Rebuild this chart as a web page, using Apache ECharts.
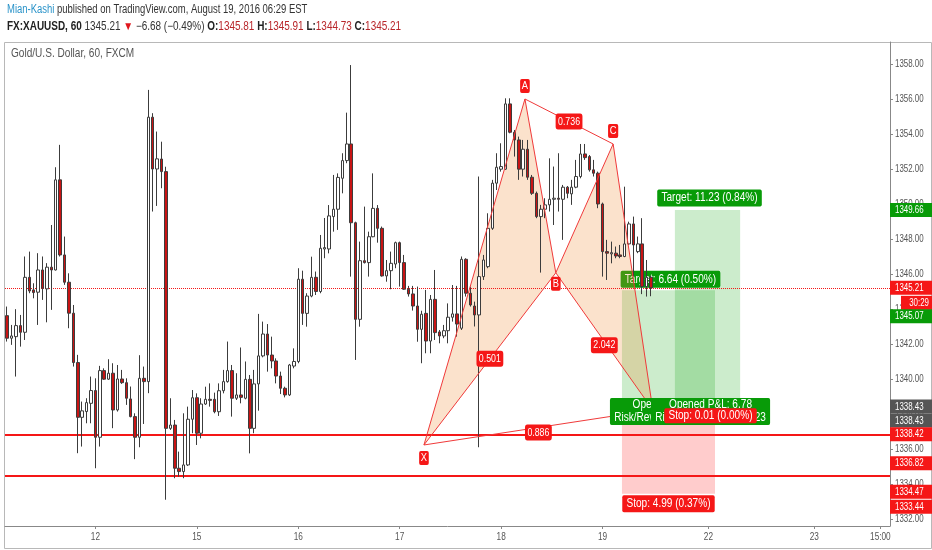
<!DOCTYPE html>
<html><head><meta charset="utf-8">
<script src="https://cdn.jsdelivr.net/npm/echarts@6/dist/echarts.min.js"></script>
<style>html,body{margin:0;padding:0;background:#fff}#c{width:932px;height:550px}</style>
</head><body><div id="c"></div>
<script>
const FONT = '"Liberation Sans","Arimo",Arial,sans-serif';
const NARROW = 0.72;   // horizontal squeeze to imitate the condensed UI font

// hourly candles: [open, high, low, close]
const candles = [
[1343.62,1344.14,1342.14,1342.33],[1342.33,1343.09,1341.95,1342.46],[1342.42,1343.99,1340.14,1343.05],[1343.05,1343.66,1341.85,1342.67],
[1342.67,1347.00,1342.23,1345.81],[1345.81,1347.28,1344.90,1345.03],[1345.09,1345.47,1344.61,1344.94],[1344.96,1347.19,1343.09,1346.23],
[1346.23,1347.00,1344.52,1345.19],[1345.15,1346.62,1343.24,1346.39],[1346.39,1348.80,1343.95,1346.23],[1346.23,1352.10,1346.20,1351.38],
[1351.38,1353.38,1347.00,1347.09],[1347.09,1348.14,1345.38,1345.53],[1345.53,1346.04,1342.90,1343.76],[1343.76,1344.23,1340.71,1340.94],
[1340.94,1341.38,1335.76,1337.81],[1337.81,1338.71,1336.14,1338.18],[1338.14,1338.90,1337.47,1338.65],[1338.61,1340.14,1337.47,1339.34],
[1339.34,1340.04,1334.90,1336.67],[1336.67,1340.75,1336.14,1340.48],[1340.48,1340.61,1339.95,1339.99],[1339.99,1341.13,1339.95,1340.33],
[1340.33,1340.90,1337.19,1338.23],[1338.23,1340.80,1338.14,1340.00],[1340.00,1340.52,1339.72,1339.79],[1339.79,1340.04,1338.52,1338.90],
[1338.86,1339.57,1337.81,1337.85],[1337.85,1338.04,1335.42,1336.67],[1336.67,1341.36,1336.10,1340.04],[1340.04,1340.71,1337.43,1339.85],
[1339.85,1356.52,1339.19,1354.96],[1354.96,1355.19,1349.57,1352.00],[1352.00,1354.14,1349.89,1352.58],[1352.57,1353.56,1350.90,1351.85],
[1351.85,1352.13,1333.10,1337.18],[1337.18,1338.90,1337.09,1337.37],[1337.37,1337.66,1334.33,1334.90],[1334.90,1335.85,1334.42,1334.71],
[1334.71,1338.04,1334.33,1335.09],[1335.09,1338.42,1335.03,1337.70],[1337.70,1339.37,1336.90,1338.93],[1338.93,1339.18,1336.23,1336.90],
[1336.90,1338.90,1336.61,1338.57],[1338.57,1339.56,1338.52,1338.84],[1338.84,1339.75,1338.42,1338.78],[1338.84,1339.22,1338.04,1338.13],
[1338.13,1339.75,1337.89,1339.33],[1339.33,1340.52,1339.18,1339.85],[1339.85,1342.14,1339.79,1340.48],[1340.48,1340.80,1337.85,1338.90],
[1338.90,1340.33,1338.80,1339.09],[1339.09,1341.80,1338.61,1338.95],[1338.90,1341.00,1338.84,1339.98],[1339.98,1340.23,1335.75,1337.18],
[1337.18,1340.52,1336.90,1339.72],[1339.72,1343.72,1338.19,1341.32],[1341.32,1343.28,1341.24,1342.57],[1342.57,1343.14,1340.42,1341.37],
[1341.37,1342.42,1340.61,1341.03],[1341.03,1341.18,1339.75,1340.17],[1340.17,1340.42,1339.14,1339.47],[1339.47,1339.56,1338.95,1339.09],
[1339.09,1340.86,1339.03,1340.80],[1340.74,1341.75,1340.61,1341.00],[1341.00,1346.33,1340.90,1345.70],[1345.70,1346.19,1343.09,1343.75],
[1343.75,1344.90,1342.99,1344.74],[1344.74,1346.99,1344.67,1345.81],[1345.81,1346.14,1344.80,1345.00],[1345.00,1348.23,1344.90,1347.47],
[1347.43,1349.20,1346.90,1347.51],[1347.43,1349.94,1347.18,1349.32],[1349.28,1351.66,1348.42,1349.70],[1349.70,1351.75,1348.52,1351.52],
[1351.47,1352.90,1350.61,1352.48],[1352.48,1355.22,1352.33,1353.43],[1353.43,1357.94,1345.85,1348.93],[1348.93,1348.99,1341.09,1343.41],
[1343.41,1347.85,1342.99,1346.76],[1346.76,1349.85,1346.60,1346.65],[1346.65,1348.42,1345.85,1348.13],[1348.13,1351.75,1348.10,1349.75],
[1349.75,1349.94,1347.79,1348.61],[1348.61,1348.71,1345.85,1345.89],[1345.89,1346.80,1345.56,1346.19],[1346.19,1347.28,1345.13,1346.61],
[1346.57,1347.85,1346.33,1347.79],[1347.79,1347.85,1345.28,1346.65],[1346.65,1347.09,1345.09,1345.13],[1345.13,1345.32,1344.71,1344.86],
[1344.86,1345.32,1343.91,1344.17],[1344.17,1345.28,1342.13,1342.84],[1342.84,1343.90,1340.90,1343.70],[1343.75,1345.09,1341.47,1342.17],
[1342.17,1344.80,1341.47,1344.55],[1344.55,1346.23,1342.23,1342.65],[1342.69,1342.80,1342.04,1342.46],[1342.46,1343.09,1342.33,1342.76],
[1342.76,1344.32,1342.04,1343.53],[1343.53,1345.37,1343.28,1343.72],[1343.72,1345.32,1342.42,1343.14],[1342.90,1347.00,1342.80,1346.84],
[1346.84,1346.90,1344.71,1344.90],[1344.90,1345.28,1344.14,1344.23],[1344.17,1344.42,1343.00,1343.66],[1343.66,1351.57,1336.10,1345.85],
[1345.85,1347.09,1345.66,1346.80],[1346.42,1349.47,1346.33,1348.61],[1348.61,1351.38,1348.52,1351.19],[1351.19,1352.90,1350.80,1352.10],
[1351.99,1353.47,1351.85,1352.14],[1351.99,1356.04,1351.95,1355.72],[1355.72,1356.04,1354.04,1354.10],[1354.10,1354.23,1352.71,1353.66],
[1353.66,1353.85,1351.38,1351.99],[1351.99,1353.66,1351.57,1353.13],[1353.13,1353.66,1351.38,1351.53],[1351.53,1351.66,1350.52,1350.61],
[1350.61,1350.71,1349.19,1349.28],[1349.28,1349.95,1346.08,1349.70],[1349.70,1350.33,1349.19,1349.95],[1349.95,1352.61,1349.57,1350.27],
[1350.27,1352.14,1348.80,1350.33],[1350.33,1352.90,1349.57,1350.27],[1350.27,1351.09,1347.95,1350.96],[1350.96,1351.03,1350.33,1350.61],
[1350.58,1351.38,1349.95,1350.96],[1350.96,1352.52,1350.90,1351.57],[1351.57,1353.43,1351.47,1352.86],[1352.86,1353.43,1352.52,1352.65],
[1352.71,1352.80,1351.85,1351.95],[1351.95,1352.52,1351.57,1351.76],[1351.76,1351.85,1349.76,1350.00],[1350.00,1350.08,1345.85,1347.28],
[1347.28,1347.95,1345.66,1347.19],[1347.15,1347.85,1346.61,1347.22],[1347.19,1347.57,1346.90,1347.03],[1347.09,1347.66,1346.90,1347.00],
[1347.00,1350.99,1346.96,1347.72],[1347.72,1348.99,1347.66,1348.86],[1348.86,1349.28,1345.85,1347.66],[1347.28,1348.14,1347.19,1347.72],
[1347.72,1349.19,1344.85,1345.28],[1345.28,1346.80,1344.71,1345.81],[1345.81,1345.91,1344.73,1345.21]
];

const xTickIdx  = [20, 43, 66, 89, 112, 135, 159, 183, 198];
const xTickText = ['12','15','16','17','18','19','22','23','15:00'];
const yTicks = [1332,1334,1336,1338,1340,1342,1344,1346,1348,1350,1352,1354,1356,1358];
const lastPrice = 1345.21;
const hLevels = [1336.82, 1334.47];

// harmonic pattern points
const patNames = ['X','A','B','C','D'];
const patIdx   = [94.5, 117.4, 124.4, 137.4, 146.4];
const patPrice = [1336.23, 1356.00, 1346.07, 1353.43, 1338.23];
const ratioText = ['0.501','0.736','2.042','0.886'];
const ratioLegs = [[0,2],[1,3],[2,4],[0,4]];
const legs = [[0,1],[1,2],[2,3],[3,4],[0,2],[1,3],[2,4],[0,4]];

// long position tools
const entry = 1338.43;
const posFrom   = [139.4, 151.4];
const posTo     = [160.5, 166.2];
const posTarget = [1345.07, 1349.66];
const posStop   = [1333.44, 1338.42];
const posTargetText = ['Target: 6.64 (0.50%)', 'Target: 11.23 (0.84%)'];
const posStopText   = ['Stop: 4.99 (0.37%)', 'Stop: 0.01 (0.00%)'];
const posInfoText   = ['Open P&L: 6.78\nRisk/Reward Ratio: 1.33', 'Opened P&L: 6.78\nRisk/Reward Ratio: 1123'];

// price-axis tags
const tagText  = ['1349.66','1345.21','30:29','1345.07','1338.43','1338.43','1338.42','1336.82','1334.47','1333.44'];
const tagValue = [1349.66, 1345.21, 1345.21, 1345.07, 1338.43, 1338.43, 1338.42, 1336.82, 1334.47, 1333.44];
const tagColor = ['#089b08','#f51717','#f51717','#089b08','#555555','#555555','#f51717','#f51717','#f51717','#f51717'];
const tagShift = [0, 0, 15, 26, 0, 14, 27.5, 28.5, 16, 13];   // label stacking (px)

const RED = '#f51717', GREEN = '#089b08';
const PEACH = 'rgba(240,140,50,0.25)';

const chart = echarts.init(document.getElementById('c'), null, {renderer:'canvas'});

function txt(x, y, text, bg, opt) {
  opt = opt || {};
  return {type:'text', x:x, y:y, scaleX:opt.sq||0.84, style:{
    text:text, fill:'#fff', font:(opt.size||12)+'px '+FONT, align:opt.align||'center',
    verticalAlign:opt.va||'middle', backgroundColor:bg, padding:opt.pad||[2,4,1,4],
    borderRadius:opt.r==null?3:opt.r, lineHeight:opt.lh||14}};
}

const option = {
  animation:false,
  backgroundColor:'#fff',
  grid:{left:5, right:42, top:42, bottom:24},
  xAxis:{type:'value', min:-0.5, max:200.18,
    axisLine:{show:true, onZero:false, lineStyle:{color:'#888'}},
    axisTick:{show:true, length:3, lineStyle:{color:'#888'}, customValues:xTickIdx},
    splitLine:{show:false}, axisLabel:{show:false}},
  yAxis:{type:'value', position:'right', min:1331.6, max:1359.257, scale:true,
    axisLine:{show:true, onZero:false, lineStyle:{color:'#888'}},
    axisTick:{show:true, length:3, lineStyle:{color:'#888'}, customValues:yTicks},
    splitLine:{show:false}, axisLabel:{show:false}},
  series:[
    { // position tool zones
      type:'custom', z:1, silent:true, data:[[0,1340]],
      renderItem:(p, api)=>{
        const ch=[];
        for (let k=0;k<2;k++){
          const a=api.coord([posFrom[k], posTarget[k]]), b=api.coord([posTo[k], entry]), c=api.coord([posTo[k], posStop[k]]);
          ch.push({type:'rect', shape:{x:a[0], y:a[1], width:b[0]-a[0], height:b[1]-a[1]}, style:{fill:'rgba(0,160,0,0.2)'}});
          ch.push({type:'rect', shape:{x:a[0], y:b[1], width:b[0]-a[0], height:c[1]-b[1]}, style:{fill:'rgba(255,0,0,0.2)'}});
        }
        return {type:'group', children:ch};
      }},
    { // target label under candles
      type:'custom', z:2, silent:true, data:[[0,1340]],
      renderItem:(p, api)=>{
        const a=api.coord([(posFrom[0]+posTo[0])/2, posTarget[0]]);
        return txt(a[0]+2, a[1]-11, posTargetText[0], GREEN, {pad:[2,5,1,5], r:2});
      }},
    { // pattern fills
      type:'custom', z:3, silent:true, data:[[0,1340]],
      renderItem:(p, api)=>{
        const pt=patIdx.map((x,k)=>api.coord([x, patPrice[k]]));
        return {type:'group', children:[
          {type:'polygon', shape:{points:[pt[0],pt[1],pt[2]]}, style:{fill:PEACH}},
          {type:'polygon', shape:{points:[pt[2],pt[3],pt[4]]}, style:{fill:PEACH}}]};
      }},
    {
      type:'candlestick', z:5, barWidth:3,
      encode:{x:0, y:[1,2,3,4]},
      data:candles.map((c,i)=>[i, c[0], c[3], c[2], c[1]]),
      itemStyle:{color:'#ffffff', color0:'#c81414', borderColor:'#3c3c3c', borderColor0:'#3c3c3c', borderWidth:1},
      markLine:{silent:true, symbol:'none', animation:false, label:{show:false},
        data:[
          {yAxis:lastPrice, lineStyle:{color:RED, type:'dotted', width:1}},
          {yAxis:hLevels[0], lineStyle:{color:RED, type:'solid', width:2}},
          {yAxis:hLevels[1], lineStyle:{color:RED, type:'solid', width:2}}
        ]}
    },
    { // pattern legs
      type:'custom', z:6, silent:true, data:[[0,1340]],
      renderItem:(p, api)=>{
        const pt=patIdx.map((x,k)=>api.coord([x, patPrice[k]]));
        return {type:'group', children:legs.map(l=>({type:'line',
          shape:{x1:pt[l[0]][0], y1:pt[l[0]][1], x2:pt[l[1]][0], y2:pt[l[1]][1]},
          style:{stroke:'#f03a3a', lineWidth:1}}))};
      }},
    { // annotation labels
      type:'custom', z:7, silent:true, data:[[0,1340]],
      renderItem:(p, api)=>{
        const pt=patIdx.map((x,k)=>api.coord([x, patPrice[k]]));
        const ch=[];
        ratioLegs.forEach((l,k)=>{
          ch.push(txt((pt[l[0]][0]+pt[l[1]][0])/2, (pt[l[0]][1]+pt[l[1]][1])/2 + (k===3?5:(k===2?4:0)), ratioText[k], RED, {size:11, sq:0.8, pad:[2,3,1,3], lh:13}));
        });
        const off=[13,-13,11,-13];
        for (let k=0;k<4;k++) ch.push(txt(pt[k][0], pt[k][1]+off[k], patNames[k], RED, {size:11, sq:0.85, pad:[1,2,0,2], r:2, lh:13}));
        const t2=api.coord([(posFrom[1]+posTo[1])/2, posTarget[1]]);
        ch.push(txt(t2[0]+2, t2[1]-12, posTargetText[1], GREEN, {pad:[2,5,1,5], r:2}));
        const s1=api.coord([(posFrom[0]+posTo[0])/2, posStop[0]]);
        ch.push(txt(s1[0], s1[1]+10, posStopText[0], RED, {pad:[2,5,1,5], r:2}));
        const e1=api.coord([(posFrom[0]+posTo[0])/2, entry]);
        ch.push(txt(e1[0], e1[1]+5, posInfoText[0], GREEN, {pad:[1,5,0,5], r:2, lh:13}));
        const e2=api.coord([(posFrom[1]+posTo[1])/2, entry]);
        ch.push(txt(e2[0]+3, e2[1]+5, posInfoText[1], GREEN, {pad:[1,5,0,5], r:2, lh:13}));
        const s2=api.coord([(posFrom[1]+posTo[1])/2, posStop[1]]);
        ch.push(txt(s2[0]+3, s2[1]+9, posStopText[1], RED, {pad:[1,5,0,5], r:2}));
        return {type:'group', children:ch};
      }}
  ],
  graphic:[
    {type:'rect', shape:{x:4.5, y:42.5, width:927, height:506}, style:{fill:'none', stroke:'#b8b8b8', lineWidth:1}, z:-1, silent:true},
    {type:'text', x:7, y:10, scaleX:0.79, style:{font:'12px '+FONT, verticalAlign:'middle', fill:'#333',
      text:'{u|Mian-Kashi} published on TradingView.com, August 19, 2016 06:29 EST',
      rich:{u:{fill:'#2a93c9', font:'12px '+FONT}}}},
    {type:'text', x:7, y:27, scaleX:0.83, style:{font:'12px '+FONT, verticalAlign:'middle', fill:'#333',
      text:'{b|FX:XAUUSD, 60} 1345.21 {d|▼} −6.68 (−0.49%) {b|O:}{r|1345.81} {b|H:}{r|1345.91} {b|L:}{r|1344.73} {b|C:}{r|1345.21}',
      rich:{b:{font:'bold 12px '+FONT, fill:'#222'}, r:{fill:'#b8262a', font:'12px '+FONT}, d:{fill:'#e0161c', font:'12px '+FONT}}}},
    {type:'text', x:11, y:54, scaleX:0.84, style:{font:'12px '+FONT, verticalAlign:'middle', fill:'#555', text:'Gold/U.S. Dollar, 60, FXCM'}}
  ]
};
chart.setOption(option);

// axis labels and price-axis tags placed from the axis scales
const extra=[];
yTicks.forEach(v=>{
  const y = chart.convertToPixel({yAxisIndex:0}, v);
  extra.push({type:'text', x:895, y:y, scaleX:NARROW, z:40, silent:true,
    style:{text:v.toFixed(2), fill:'#555', font:'11px '+FONT, align:'left', verticalAlign:'middle'}});
});
xTickIdx.forEach((v,k)=>{
  const x = chart.convertToPixel({xAxisIndex:0}, v);
  extra.push({type:'text', x:x, y:537, scaleX:0.75, z:40, silent:true,
    style:{text:xTickText[k], fill:'#555', font:'11px '+FONT, align:'center', verticalAlign:'middle'}});
});
for (let k=0;k<tagText.length;k++){
  const y = chart.convertToPixel({yAxisIndex:0}, tagValue[k]) + tagShift[k];
  const isTimer = tagText[k].indexOf(':')>=0;
  const x0 = isTimer ? 901 : 890;
  extra.push({type:'rect', shape:{x:x0, y:y-7, width:932-x0, height:14}, style:{fill:tagColor[k]}, z:50, silent:true});
  extra.push({type:'text', x:isTimer?929:895, y:y, z:51, silent:true, scaleX:NARROW,
    style:{text:tagText[k], fill:'#fff', font:'11px '+FONT, align:isTimer?'right':'left', verticalAlign:'middle'}});
}
chart.setOption({graphic: option.graphic.concat(extra)});
</script></body></html>
